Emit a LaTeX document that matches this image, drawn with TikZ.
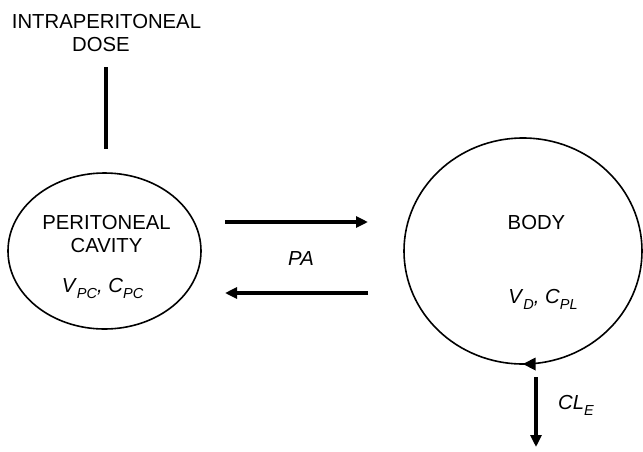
\documentclass[tikz,border=0pt]{standalone}
\usepackage{fontspec}
\setmainfont{Liberation Sans}
\usetikzlibrary{arrows.meta,shapes.geometric}
\newcommand\sbs[1]{\raisebox{-0.33em}{\fontsize{14.5}{14.5}\selectfont\itshape #1}}
\begin{document}
\begin{tikzpicture}[x=1pt,y=-1pt,
  lbl/.style={inner sep=0pt,anchor=base,font=\fontsize{20.3}{23}\selectfont},
  flow/.style={line width=3.3pt,-{Triangle[length=12pt,width=11pt]}},
  comp/.style={draw,line width=1.6pt,ellipse,inner sep=0pt}]
\useasboundingbox (0,0) rectangle (643,451);
% compartments
\node[comp,minimum width=193pt,minimum height=156pt] (pc) at (104.5,251) {};
\node[comp,minimum width=238pt,minimum height=226pt] (body) at (523,251) {};
% labels
\node[lbl] (ip) at (106.5,28) {INTRAPERITONEAL};
\node[lbl] (dose) at (101,51) {DOSE};
\node[lbl] (pct1) at (106.5,229) {PERITONEAL};
\node[lbl] (pct2) at (106.5,252) {CAVITY};
\node[lbl] (pcv) at (102.5,292) {\textit{V}\sbs{PC}\textit{, C}\sbs{PC}};
\node[lbl] (bt) at (536.5,229) {BODY};
\node[lbl] (bv) at (543,303) {\textit{V}\sbs{D}\textit{, C}\sbs{PL}};
\node[lbl] (pa) at (301,265) {\textit{PA}};
\node[lbl,anchor=base west] (cl) at (558,409) {\textit{CL}\sbs{E}};
% connector end points
\coordinate (d1) at (106,67);
\coordinate (d2) at (106,149);
\coordinate (a1) at (225,222);
\coordinate (a2) at (368,222);
\coordinate (b1) at (368,293);
\coordinate (b2) at (225,293);
\coordinate (e1) at (536,377);
\coordinate (e2) at (536,447);
% connectors
\draw[line width=3.5pt] (d1) -- (d2);
\draw[flow] (a1) -- (a2);
\draw[flow] (b1) -- (b2);
\draw[flow] (e1) -- (e2);
% direction mark on body circle
\fill (523,364) -- (535.5,357.5) -- (535.5,370.5) -- cycle;
\end{tikzpicture}
\end{document}
